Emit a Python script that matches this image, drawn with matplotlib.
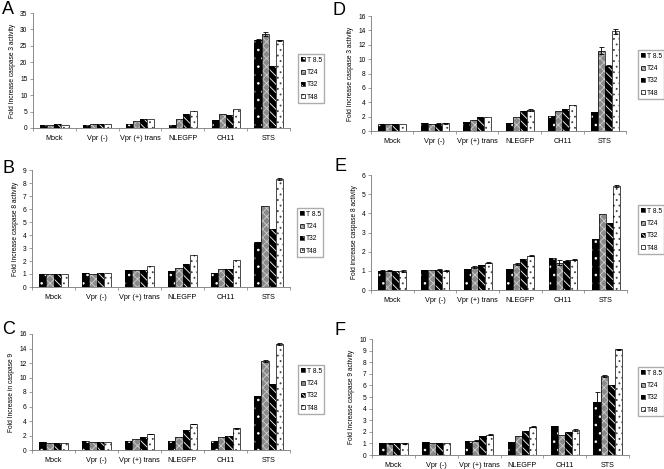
import numpy as np
import matplotlib
matplotlib.use("Agg")
import matplotlib.pyplot as plt
from matplotlib.patches import Patch

plt.rcParams['font.family'] = ['Liberation Sans', 'DejaVu Sans']
plt.rcParams['hatch.linewidth'] = 0.6

categories = ["Mock", "Vpr (-)", "Vpr (+) trans", "NLEGFP", "CH11", "STS"]
series = ["T 8.5", "T24", "T32", "T48"]

# panel A - caspase 3
a_vals = [[0.9, 1.0, 1.2, 1.0, 2.3, 26.8],
          [1.0, 1.1, 2.0, 2.8, 4.3, 28.6],
          [1.1, 1.2, 2.6, 4.3, 4.0, 19.0],
          [1.0, 1.2, 2.8, 5.2, 5.7, 26.7]]
a_err = [[0, 0, 0, 0, 0, 0.2],
         [0, 0, 0, 0, 0, 0.7],
         [0, 0, 0, 0, 0, 0],
         [0, 0, 0, 0, 0, 0.2]]
# panel D - caspase 3
d_vals = [[1.0, 1.1, 1.3, 1.1, 2.1, 2.7],
          [1.0, 1.0, 1.5, 2.0, 2.8, 11.2],
          [1.0, 1.0, 2.0, 2.8, 3.1, 9.1],
          [1.0, 1.05, 2.0, 2.9, 3.6, 13.9]]
d_err = [[0, 0.05, 0, 0, 0, 0],
         [0, 0, 0, 0, 0, 0.55],
         [0, 0.05, 0, 0, 0, 0.1],
         [0, 0.1, 0, 0.1, 0, 0.35]]
# panel B - caspase 8
b_vals = [[1.0, 1.1, 1.3, 1.2, 1.05, 3.5],
          [1.0, 1.0, 1.3, 1.45, 1.35, 6.25],
          [1.0, 1.05, 1.3, 1.8, 1.4, 4.45],
          [1.0, 1.05, 1.65, 2.5, 2.1, 8.3]]
b_err = [[0, 0, 0, 0, 0, 0],
         [0, 0, 0, 0, 0, 0],
         [0, 0, 0, 0, 0, 0],
         [0, 0, 0, 0, 0, 0.08]]
# panel E - caspase 8
e_vals = [[1.0, 1.02, 1.12, 1.08, 1.68, 2.65],
          [1.0, 1.02, 1.2, 1.35, 1.42, 3.95],
          [0.98, 1.05, 1.3, 1.6, 1.52, 3.48],
          [0.98, 1.0, 1.42, 1.8, 1.58, 5.45]]
e_err = [[0.02, 0, 0, 0.02, 0, 0],
         [0.03, 0, 0.03, 0.05, 0.12, 0],
         [0, 0.03, 0.03, 0, 0.07, 0.03],
         [0.04, 0.03, 0.03, 0.04, 0.03, 0.05]]
# panel C - caspase 9
c_vals = [[1.05, 1.2, 1.3, 1.2, 1.2, 7.5],
          [1.0, 1.1, 1.5, 1.8, 1.8, 12.3],
          [1.0, 1.1, 1.8, 2.7, 1.9, 9.1],
          [1.0, 1.1, 2.2, 3.6, 3.0, 14.6]]
c_err = [[0.08, 0, 0, 0, 0, 0],
         [0, 0, 0, 0, 0, 0.1],
         [0, 0, 0, 0, 0, 0],
         [0, 0, 0.05, 0.05, 0.1, 0.15]]
# panel F - caspase 9
f_vals = [[1.0, 1.1, 1.2, 1.1, 2.5, 4.55],
          [1.0, 1.0, 1.25, 1.6, 1.72, 6.8],
          [1.0, 1.05, 1.6, 2.05, 1.95, 6.0],
          [1.0, 1.05, 1.75, 2.45, 2.15, 9.1]]
f_err = [[0, 0.05, 0, 0.05, 0, 0.85],
         [0.03, 0, 0.05, 0, 0, 0.06],
         [0, 0, 0.05, 0.05, 0.05, 0],
         [0.05, 0, 0.05, 0.05, 0.05, 0.08]]

# letter, values, errors, ymax, step, ylabel, axes box (l, r, t, b px), legend corner, letter corner
panels = [
    ("A", a_vals, a_err, 35, 5, "Fold Increase caspase 3 activity", (33, 290, 13, 128), (298, 54), (2, 1)),
    ("D", d_vals, d_err, 16, 2, "Fold Increase caspase 3 activity", (371, 626, 16, 131), (638, 50), (333, 2)),
    ("B", b_vals, b_err, 9, 1, "Fold Increase caspase 8 activity", (32, 290, 170, 287), (297, 208), (2, 160)),
    ("E", e_vals, e_err, 6, 1, "Fold increase caspase 8 activity", (371, 627, 175, 290), (638, 205), (334, 158)),
    ("C", c_vals, c_err, 16, 2, "Fold Increase in caspase 9", (32, 290, 334, 450), (298, 365), (2, 321)),
    ("F", f_vals, f_err, 10, 1, "Fold Increase caspase 9 activity", (372, 629, 339, 455), (638, 367), (335, 322)),
]

# face colour, hatch, hatch colour
styles = [("black", "..", "white"),
          ("#8a8a8a", "xxxx", "#cfcfcf"),
          ("black", "\\\\\\\\", "white"),
          ("white", "...", "#444444")]

W, H = 664, 469
fig = plt.figure(figsize=(W / 100, H / 100), dpi=100)

x = np.arange(len(categories))
bw = 0.165

for label, vals, errs, ymax, step, ylab, (l, r, t, b), (lx, ly), (px, py) in panels:
    ax = fig.add_axes([l / W, 1 - b / H, (r - l) / W, (b - t) / H])
    for i, (fc, hat, hc) in enumerate(styles):
        xs = x + (i - 1.5) * bw
        ax.bar(xs, vals[i], bw, color=fc, hatch=hat, edgecolor=hc, linewidth=0)
        ax.bar(xs, vals[i], bw, fill=False, edgecolor="black", linewidth=0.5)
        e = np.array(errs[i], dtype=float)
        m = e > 0
        if m.any():
            ax.errorbar(xs[m], np.array(vals[i])[m], yerr=e[m], fmt="none",
                        ecolor="black", elinewidth=0.6, capsize=1.8, capthick=0.6)
    ax.set_xlim(-0.5, len(categories) - 0.5)
    ax.set_ylim(0, ymax)
    ax.set_yticks(np.arange(0, ymax + 0.01, step))
    ax.set_xticks(np.arange(-0.5, len(categories), 1.0))
    ax.set_xticklabels([])
    ax.set_xticks(x, minor=True)
    ax.set_xticklabels(categories, minor=True)
    ax.tick_params(axis="x", which="major", length=2.5, width=0.5, color="#777777")
    ax.tick_params(axis="x", which="minor", length=0, labelsize=5.2, pad=5)
    ax.tick_params(axis="y", length=2, width=0.5, color="#777777", labelsize=4.8, pad=2)
    for s in ["top", "right"]:
        ax.spines[s].set_visible(False)
    for s in ["left", "bottom"]:
        ax.spines[s].set_linewidth(0.6)
        ax.spines[s].set_color("#777777")
    ax.set_ylabel(ylab, fontsize=4.8, labelpad=3)
    fig.text(px / W, 1 - py / H, label, fontsize=13, va="top", ha="left")

    handles = []
    for fc, hat, hc in styles:
        handles.append((Patch(facecolor=fc, hatch=hat, edgecolor=hc, linewidth=0),
                        Patch(fill=False, edgecolor="black", linewidth=0.5)))
    fig.legend(handles, series, loc="upper left", bbox_to_anchor=(lx / W, 1 - ly / H),
               fontsize=4.8, frameon=True, fancybox=False, edgecolor="#999999",
               handlelength=0.6, handleheight=0.6, handletextpad=0.3,
               labelspacing=0.8, borderpad=0.4, borderaxespad=0)

fig.savefig("out.png", dpi=100)
